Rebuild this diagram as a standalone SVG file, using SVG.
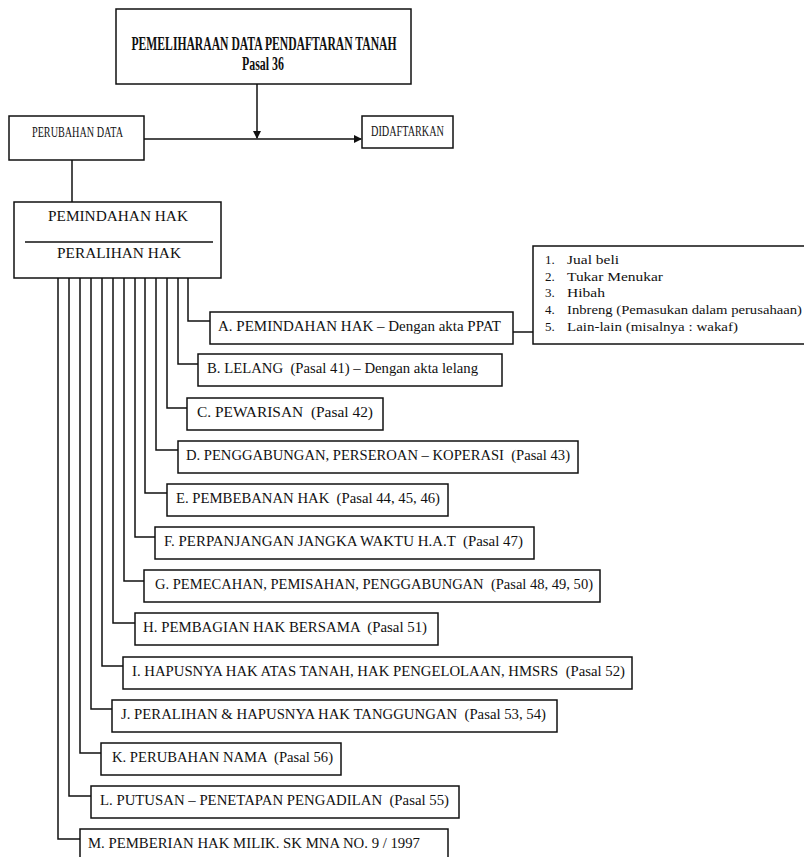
<svg xmlns="http://www.w3.org/2000/svg" width="804" height="857" viewBox="0 0 804 857">
<defs>
<style>
.box{fill:#fff;stroke:#111;stroke-width:1.5}
.ln{fill:none;stroke:#111;stroke-width:1.5}
text{font-family:"Liberation Serif","Times New Roman",serif;fill:#111;white-space:pre}
.t{font-size:14px}
.tb{font-size:18px;font-weight:bold}
.tl{font-size:13px}
</style>
<marker id="arr" markerWidth="8" markerHeight="8" refX="7" refY="4" orient="auto" markerUnits="userSpaceOnUse">
<path d="M0,0 L8,4 L0,8 Z" fill="#111"/>
</marker>
</defs>
<rect width="804" height="857" fill="#fff"/>

<g id="connectors">
<path class="ln" d="M257,84 V138" marker-end="url(#arr)"/>
<path class="ln" d="M144,139 H361" marker-end="url(#arr)"/>
<path class="ln" d="M72,160 V202"/>
<path class="ln" d="M188,278 V321 H210"/>
<path class="ln" d="M178,278 V364 H198"/>
<path class="ln" d="M167,278 V408 H187"/>
<path class="ln" d="M156,278 V450 H178"/>
<path class="ln" d="M145,278 V493 H167"/>
<path class="ln" d="M135,278 V537 H155"/>
<path class="ln" d="M124,278 V581 H144"/>
<path class="ln" d="M113,278 V623 H135"/>
<path class="ln" d="M102,278 V666 H123"/>
<path class="ln" d="M91,278 V709 H112"/>
<path class="ln" d="M80,278 V753 H101"/>
<path class="ln" d="M69,278 V796 H91"/>
<path class="ln" d="M58,278 V839 H80"/>
<path class="ln" d="M513,332 H533"/>
</g>

<g id="title">
<rect class="box" x="116" y="9" width="295" height="75"/>
<text class="tb" x="264" y="50" text-anchor="middle" textLength="265" lengthAdjust="spacingAndGlyphs">PEMELIHARAAN DATA PENDAFTARAN TANAH</text>
<text class="tb" x="263" y="70" text-anchor="middle" font-size="17" textLength="42" lengthAdjust="spacingAndGlyphs">Pasal 36</text>
</g>

<g id="perubahan">
<rect class="box" x="9" y="116" width="135" height="44"/>
<text class="t" x="32" y="137" textLength="91" lengthAdjust="spacingAndGlyphs">PERUBAHAN DATA</text>
</g>

<g id="didaftarkan">
<rect class="box" x="362" y="116" width="91" height="32"/>
<text class="t" x="371" y="136" textLength="73" lengthAdjust="spacingAndGlyphs">DIDAFTARKAN</text>
</g>

<g id="pemindahan">
<rect class="box" x="14" y="202" width="207" height="76"/>
<text class="t" x="48" y="221" textLength="140" lengthAdjust="spacingAndGlyphs">PEMINDAHAN HAK</text>
<line class="ln" x1="25" y1="242" x2="213" y2="242"/>
<text class="t" x="57" y="258" textLength="124" lengthAdjust="spacingAndGlyphs">PERALIHAN HAK</text>
</g>

<g id="list">
<rect class="box" x="533" y="246" width="280" height="98"/>
<text class="tl" x="545" y="264">1.</text><text class="tl" x="567" y="264" textLength="52" lengthAdjust="spacingAndGlyphs">Jual beli</text>
<text class="tl" x="545" y="281">2.</text><text class="tl" x="567" y="281" textLength="96" lengthAdjust="spacingAndGlyphs">Tukar Menukar</text>
<text class="tl" x="545" y="297">3.</text><text class="tl" x="567" y="297" textLength="38" lengthAdjust="spacingAndGlyphs">Hibah</text>
<text class="tl" x="545" y="314">4.</text><text class="tl" x="567" y="314" textLength="235" lengthAdjust="spacingAndGlyphs">Inbreng (Pemasukan dalam perusahaan)</text>
<text class="tl" x="545" y="331">5.</text><text class="tl" x="567" y="331" textLength="171" lengthAdjust="spacingAndGlyphs">Lain-lain (misalnya : wakaf)</text>
</g>

<g id="nodeA"><rect class="box" x="210" y="312" width="303" height="32"/><text class="t" x="218" y="331" textLength="283" lengthAdjust="spacingAndGlyphs">A. PEMINDAHAN HAK – Dengan akta PPAT</text></g>
<g id="nodeB"><rect class="box" x="198" y="354" width="304" height="32"/><text class="t" x="207" y="373" textLength="271" lengthAdjust="spacingAndGlyphs">B. LELANG  (Pasal 41) – Dengan akta lelang</text></g>
<g id="nodeC"><rect class="box" x="187" y="398" width="196" height="32"/><text class="t" x="197" y="417" textLength="176" lengthAdjust="spacingAndGlyphs">C. PEWARISAN  (Pasal 42)</text></g>
<g id="nodeD"><rect class="box" x="178" y="441" width="400" height="32"/><text class="t" x="186" y="460" textLength="384" lengthAdjust="spacingAndGlyphs">D. PENGGABUNGAN, PERSEROAN – KOPERASI  (Pasal 43)</text></g>
<g id="nodeE"><rect class="box" x="167" y="484" width="281" height="32"/><text class="t" x="176" y="503" textLength="264" lengthAdjust="spacingAndGlyphs">E. PEMBEBANAN HAK  (Pasal 44, 45, 46)</text></g>
<g id="nodeF"><rect class="box" x="155" y="527" width="379" height="32"/><text class="t" x="164" y="546" textLength="359" lengthAdjust="spacingAndGlyphs">F. PERPANJANGAN JANGKA WAKTU H.A.T  (Pasal 47)</text></g>
<g id="nodeG"><rect class="box" x="144" y="570" width="456" height="32"/><text class="t" x="155" y="589" textLength="438" lengthAdjust="spacingAndGlyphs">G. PEMECAHAN, PEMISAHAN, PENGGABUNGAN  (Pasal 48, 49, 50)</text></g>
<g id="nodeH"><rect class="box" x="135" y="613" width="303" height="32"/><text class="t" x="143" y="632" textLength="284" lengthAdjust="spacingAndGlyphs">H. PEMBAGIAN HAK BERSAMA  (Pasal 51)</text></g>
<g id="nodeI"><rect class="box" x="123" y="657" width="509" height="32"/><text class="t" x="132" y="676" textLength="493" lengthAdjust="spacingAndGlyphs">I. HAPUSNYA HAK ATAS TANAH, HAK PENGELOLAAN, HMSRS  (Pasal 52)</text></g>
<g id="nodeJ"><rect class="box" x="112" y="700" width="445" height="32"/><text class="t" x="121" y="719" textLength="425" lengthAdjust="spacingAndGlyphs">J. PERALIHAN &amp; HAPUSNYA HAK TANGGUNGAN  (Pasal 53, 54)</text></g>
<g id="nodeK"><rect class="box" x="101" y="743" width="240" height="32"/><text class="t" x="112" y="762" textLength="221" lengthAdjust="spacingAndGlyphs">K. PERUBAHAN NAMA  (Pasal 56)</text></g>
<g id="nodeL"><rect class="box" x="91" y="786" width="368" height="32"/><text class="t" x="100" y="805" textLength="349" lengthAdjust="spacingAndGlyphs">L. PUTUSAN – PENETAPAN PENGADILAN  (Pasal 55)</text></g>
<g id="nodeM"><rect class="box" x="80" y="829" width="368" height="40"/><text class="t" x="88" y="848" textLength="332" lengthAdjust="spacingAndGlyphs">M. PEMBERIAN HAK MILIK. SK MNA NO. 9 / 1997</text></g>
</svg>
